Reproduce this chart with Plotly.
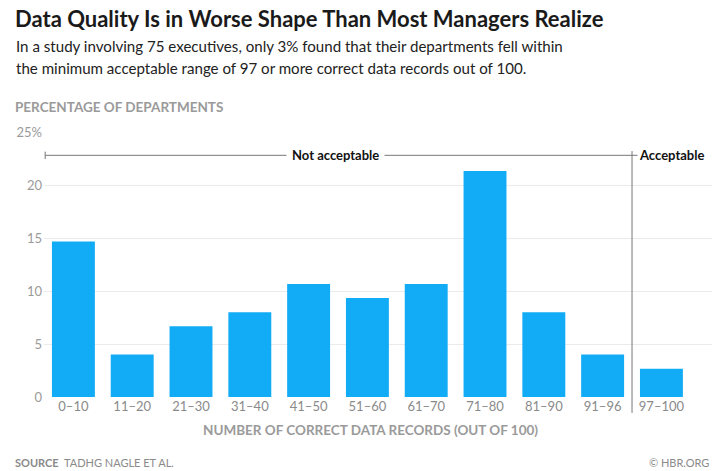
import plotly.graph_objects as go

categories = ["0–10", "11–20", "21–30", "31–40", "41–50", "51–60",
              "61–70", "71–80", "81–90", "91–96", "97–100"]
values = [14.67, 4.0, 6.67, 8.0, 10.67, 9.33, 10.67, 21.33, 8.0, 4.0, 2.67]
y_tickvals = [0, 5, 10, 15, 20, 25]
y_ticktext = ["0", "5", "10", "15", "20", "25%"]

W, H = 726, 471
ML, MR, MT, MB = 44, 14, 132, 74
BAR = "#12abf5"
GRAY = "#8a8a8a"
X_RANGE = [-0.5, 10.86]
Y_RANGE = [0, 25]
BRACKET_Y = 22.8
DIVIDER = 9.5

fig = go.Figure(go.Bar(x=categories, y=values, marker_color=BAR,
                       marker_line_width=0, hoverinfo="skip"))

fig.update_layout(
    width=W, height=H,
    margin=dict(l=ML, r=MR, t=MT, b=MB),
    plot_bgcolor="white", paper_bgcolor="white",
    bargap=0.27, showlegend=False,
    font=dict(family="Lato, sans-serif", color=GRAY),
)
fig.update_xaxes(range=X_RANGE, showgrid=False, zeroline=False, showline=False,
                 ticks="", tickfont=dict(size=13, color=GRAY, family="Lato"),
                 fixedrange=True)
fig.update_yaxes(range=Y_RANGE, tickvals=y_tickvals, ticktext=y_ticktext,
                 showgrid=True, gridcolor="#ebebeb", gridwidth=1,
                 zeroline=False, showline=False, ticks="",
                 tickfont=dict(size=13, color="#9a9a9a", family="Lato"),
                 ticklabelstandoff=1, fixedrange=True)


def xdom(v):
    return (v - X_RANGE[0]) / (X_RANGE[1] - X_RANGE[0])


def ypap(v):
    return (v - Y_RANGE[0]) / (Y_RANGE[1] - Y_RANGE[0])


def px_to_paper(px, py):
    return (px - ML) / (W - ML - MR), 1 - (py - MT) / (H - MT - MB)


LINE = dict(color="#777777", width=1)
# divider between not acceptable / acceptable
fig.add_shape(type="line", xref="x domain", yref="paper",
              x0=xdom(DIVIDER), x1=xdom(DIVIDER), y0=ypap(-1.5), y1=ypap(BRACKET_Y + 0.4),
              line=LINE)
# bracket lines
fig.add_shape(type="line", xref="x", yref="y", x0=-0.48, x1=10.27,
              y0=BRACKET_Y, y1=BRACKET_Y, line=LINE)
for xv in (-0.48, 10.27):
    fig.add_shape(type="line", xref="x", yref="y", x0=xv, x1=xv,
                  y0=BRACKET_Y - 0.35, y1=BRACKET_Y + 0.35, line=LINE)

fig.add_annotation(x=4.46, y=BRACKET_Y, xref="x", yref="y", text="<b>Not acceptable</b>",
                   showarrow=False, bgcolor="white", borderpad=5,
                   font=dict(size=13, color="#111111", family="Lato"))
fig.add_annotation(x=10.17, y=BRACKET_Y, xref="x", yref="y", text="<b>Acceptable</b>",
                   showarrow=False, bgcolor="white", borderpad=1,
                   font=dict(size=13, color="#111111", family="Lato"))

annos = [
    dict(text="<b>Data Quality Is in Worse Shape Than Most Managers Realize</b>",
         x=13, y=18, size=22, color="#1a1a1a", anchor="left"),
    dict(text="In a study involving 75 executives, only 3% found that their departments fell within",
         x=14, y=46, size=15.1, color="#222222", anchor="left"),
    dict(text="the minimum acceptable range of 97 or more correct data records out of 100.",
         x=14, y=68, size=15.1, color="#222222", anchor="left"),
    dict(text="<b>PERCENTAGE OF DEPARTMENTS</b>", x=13, y=107, size=13.5, color="#9a9a9a",
         anchor="left"),
    dict(text="<b>SOURCE</b>  TADHG NAGLE ET AL.", x=13, y=462, size=11, color="#8a8a8a",
         anchor="left"),
    dict(text="© HBR.ORG", x=711, y=462, size=11, color="#8a8a8a", anchor="right"),
    dict(text="<b>NUMBER OF CORRECT DATA RECORDS (OUT OF 100)</b>", x=370, y=430, size=13.5,
         color="#9a9a9a", anchor="center"),
]
for a in annos:
    px, py = px_to_paper(a["x"], a["y"])
    fig.add_annotation(text=a["text"], xref="paper", yref="paper", x=px, y=py,
                       xanchor=a["anchor"], yanchor="middle", showarrow=False,
                       font=dict(size=a["size"], color=a["color"], family="Lato"))

fig.write_html("out.html", config={"displayModeBar": False, "staticPlot": True},
               post_script="document.body.style.margin='0';document.body.style.overflow='hidden';")
